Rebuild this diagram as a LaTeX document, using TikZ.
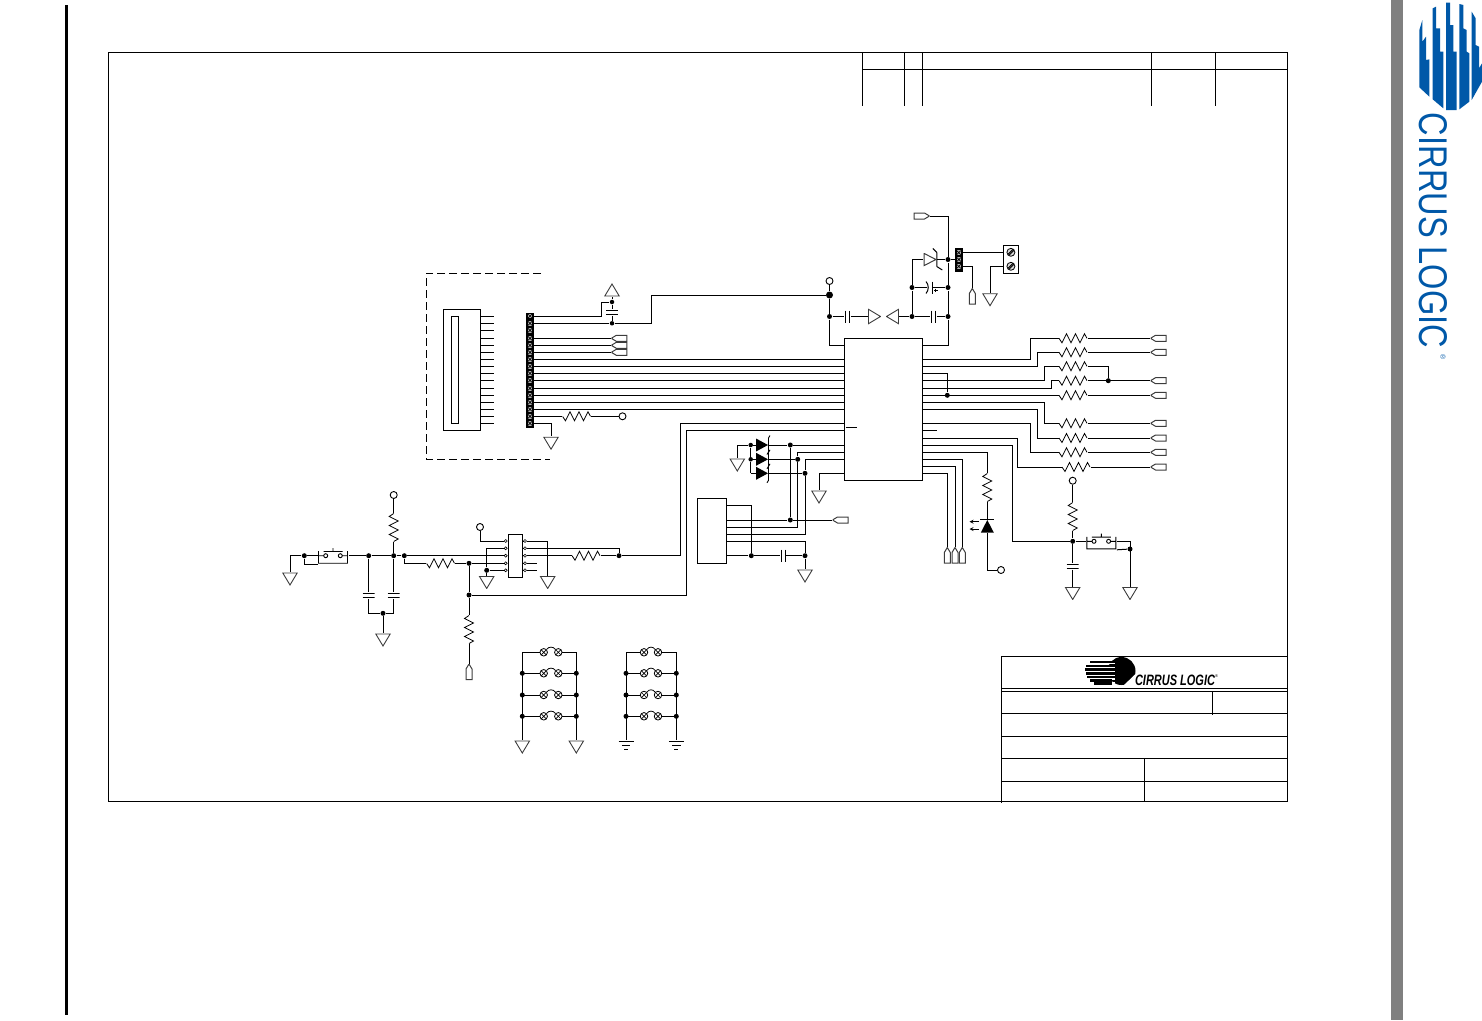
\documentclass[tikz,border=0pt]{standalone}
\usepackage{graphicx}
\usepackage{fontspec}
\setmainfont{Liberation Sans}
\usetikzlibrary{calc,positioning}
\definecolor{cirrusBlue}{RGB}{0,88,168}
\definecolor{railGray}{RGB}{128,128,128}
\definecolor{symGray}{RGB}{60,60,60}

\begin{document}
\begin{tikzpicture}
      [x=1pt,y=-1pt,line width=1pt,
      % STYLES
      every node/.style={inner sep=0pt},
      % Junctions and free ends
      dot/.style={circle, fill=black, minimum size=5},
      term/.style={circle, draw, line width=.9pt, minimum size=7},
      % Resistors, horizontal and vertical
      resH/.style={rectangle, minimum width=28, minimum height=13, path picture={
        \draw[line width=.8pt,shift={(path picture bounding box.center)}] (-14,0) -- (-11,4.5) -- (-6.5,-4.5) -- (-2,4.5) -- (2.5,-4.5) -- (7,4.5) -- (11.5,-4.5) -- (14,0);}},
      resV/.style={rectangle, minimum width=13, minimum height=28, path picture={
        \draw[line width=.8pt,shift={(path picture bounding box.center)}] (0,-14) -- (-4.5,-11) -- (4.5,-6.5) -- (-4.5,-2) -- (4.5,2.5) -- (-4.5,7) -- (4.5,11.5) -- (0,14);}},
      % Capacitors
      capH/.style={rectangle, minimum width=5.5, minimum height=12, path picture={
        \draw[shift={(path picture bounding box.center)}] (-2.2,-6) -- (-2.2,6) (2.2,-6) -- (2.2,6);}},
      capV/.style={rectangle, minimum width=12, minimum height=5.5, path picture={
        \draw[shift={(path picture bounding box.center)}] (-6,-2.2) -- (6,-2.2) (-6,2.2) -- (6,2.2);}},
      % Ground and supply triangles
      gnd/.style={rectangle, minimum width=16, minimum height=12.8, path picture={
        \draw[symGray,line width=.9pt,shift={(path picture bounding box.center)}] (-7.2,-6) -- (7.2,-6) -- (0,6) -- cycle;}},
      supU/.style={rectangle, minimum width=16, minimum height=12.8, path picture={
        \draw[symGray,line width=.9pt,shift={(path picture bounding box.center)}] (-7.2,6) -- (7.2,6) -- (0,-6) -- cycle;}},
      supR/.style={rectangle, minimum width=12.8, minimum height=16, path picture={
        \draw[symGray,line width=.9pt,shift={(path picture bounding box.center)}] (-6,-7.2) -- (-6,7.2) -- (6,0) -- cycle;}},
      supL/.style={rectangle, minimum width=12.8, minimum height=16, path picture={
        \draw[symGray,line width=.9pt,shift={(path picture bounding box.center)}] (6,-7.2) -- (6,7.2) -- (-6,0) -- cycle;}},
      % Earth symbol
      earth/.style={rectangle, minimum width=16, minimum height=11, path picture={
        \draw[shift={(path picture bounding box.center)}] (-7.5,-5) -- (7.5,-5) (-4.2,-.5) -- (4.2,-.5) (-2,3.5) -- (2,3.5);}},
      % Off-page ports
      portL/.style={rectangle, minimum width=16, minimum height=7, path picture={
        \draw[symGray,shift={(path picture bounding box.center)}] (-8,0) -- (-3,-3) -- (7.5,-3) -- (7.5,3) -- (-3,3) -- cycle;}},
      portR/.style={rectangle, minimum width=16, minimum height=7, path picture={
        \draw[symGray,shift={(path picture bounding box.center)}] (8,0) -- (3,-3) -- (-7.5,-3) -- (-7.5,3) -- (3,3) -- cycle;}},
      portU/.style={rectangle, minimum width=7, minimum height=16, path picture={
        \draw[symGray,shift={(path picture bounding box.center)}] (0,-8) -- (-3,-3) -- (-3,7.5) -- (3,7.5) -- (3,-3) -- cycle;}},
      % Diodes
      diodeF/.style={rectangle, minimum width=12, minimum height=13, path picture={
        \fill[shift={(path picture bounding box.center)}] (-6,-6.5) -- (6,0) -- (-6,6.5) -- cycle;}},
      diodeO/.style={rectangle, minimum width=12.6, minimum height=13, path picture={
        \draw[symGray,shift={(path picture bounding box.center)}] (-5.8,-6) -- (6,0) -- (-5.8,6) -- cycle;}},
      ledU/.style={rectangle, minimum width=13, minimum height=12.6, path picture={
        \fill[shift={(path picture bounding box.center)}] (-6.5,6.3) -- (6.5,6.3) -- (0,-6.3) -- cycle;}},
      % Push button
      pushSw/.style={rectangle, minimum width=30, minimum height=16, path picture={
        \draw[line width=.9pt,shift={(path picture bounding box.center)}] (-14.5,-4.5) -- (-14.5,7.5) -- (14.5,7.5) -- (14.5,-4.5)
          (-14.5,0) -- (-9.3,0) (9.3,0) -- (14.5,0) (-7.3,0) circle (2) (7.3,0) circle (2)
          (-9.5,-4.2) -- (9.5,-4.2) (0,-4.2) -- (0,-7.6);}},
      % Connector cells
      pinCell/.style={rectangle, fill=black!30, minimum size=4.6, path picture={
        \draw[line width=.7pt,shift={(path picture bounding box.center)}] (-2,-2) -- (2,2) (-2,2) -- (2,-2);}},
      screw/.style={circle, draw, line width=.8pt, fill=black!15, minimum size=8, path picture={
        \draw[line width=.8pt,shift={(path picture bounding box.center)}] (-3,2) -- (2,-3) (-2,3) -- (3,-2);}},
      lamp/.style={circle, draw, line width=.8pt, minimum size=7.5, path picture={
        \draw[line width=.7pt,shift={(path picture bounding box.center)}] (-3,-3) -- (3,3) (-3,3) -- (3,-3);}}]

      \useasboundingbox (0,0) rectangle (1482,1020);

      % Page furniture
      \fill (64.5,5) rectangle (67.5,1015);
      \fill[railGray] (1391,0) rectangle (1403,1020);
      \node [draw, minimum width=1179, minimum height=749] (sheet) at (697.5,426.5) {};

      % Revision table
      \draw (862,52) -- (862,106) (904,52) -- (904,106) (922,52) -- (922,106)
        (1151,52) -- (1151,106) (1215,52) -- (1215,106) (862,69) -- (1287,69);

      % Title block
      \draw (1001,656) -- (1287,656) (1001,656) -- (1001,803) (1001,688) -- (1287,688)
        (1001,691.5) -- (1287,691.5) (1001,713.5) -- (1287,713.5) (1001,736) -- (1287,736)
        (1001,758) -- (1287,758) (1001,781) -- (1287,781) (1212.5,691.5) -- (1212.5,715) (1144,758) -- (1144,802);

      %%%%%%%%%%%%%%%
      % Small logo
      \fill (1121.5,671) circle (14);
      \foreach \xs/\ya in {1090/661.7,1086/665.7,1085/669.5,1086/673.3,1087/677,1090/680.5,1094/683.5}{
        \fill[white] (1098,\ya+1.2) rectangle (1115,\ya+2.6);
        \fill (\xs,\ya-1.2) rectangle (1112,\ya+1.2);
      }
      \fill[white] (1135.5,674) -- (1136,686) -- (1123,686) -- cycle;
      \node (logoSmall) at (1175,680) {\resizebox{80pt}{10.5pt}{\bfseries\itshape CIRRUS LOGIC}};
      \node [font=\fontsize{4}{4}\selectfont] (logoSmallMark) at (1216.5,676.5) {®};

      % Large logo
      \begin{scope}[shift={(1410,0)},x=1/3pt,y=-1/3pt,fill=cirrusBlue]
        \fill (28,90) -- (37,60) -- (37,125) -- (48,110) -- (48,180) -- (58,178) -- (58,290) -- (28,262) -- cycle;
        \fill (68,25) -- (78,20) -- (78,85) -- (90,85) -- (90,155) -- (100,155) -- (100,325) -- (68,298) -- cycle;
        \fill (108,8) -- (120,8) -- (120,75) -- (130,75) -- (130,155) -- (140,155) -- (140,330) -- (108,330) -- cycle;
        \fill (148,12) -- (160,15) -- (160,85) -- (170,90) -- (170,155) -- (178,160) -- (178,305) -- (148,328) -- cycle;
        \fill (185,35) -- (197,55) -- (197,135) -- (207,140) -- (207,205) -- (216,190) -- (216,245) -- (185,300) -- cycle;
      \end{scope}
      \node [rotate=-90, text=cirrusBlue] (logoBig) at (1433,230.5) {\resizebox{235pt}{28pt}{CIRRUS LOGIC}};
      \node [rotate=-90, text=cirrusBlue, font=\fontsize{7}{7}\selectfont] (logoMark) at (1443,357) {®};

      %%%%%%%%%%%%%%%
      % Main chip and connector boxes
      \node [draw, minimum width=78, minimum height=142] (U) at (883,409) {};
      \node [draw, minimum width=37, minimum height=121] (cardSlot) at (461.5,369.5) {};
      \node [draw, minimum width=7, minimum height=107] (cardInner) at (454.5,369.5) {};
      \node [draw, minimum width=29, minimum height=65] (hdrBox) at (712,530.5) {};
      \node [draw, minimum width=14.5, minimum height=43] (muxBox) at (515.5,555.7) {};
      \node [draw, minimum width=14.7, minimum height=28.3] (termBlock) at (1011.3,259.2) {};
      \node [fill=black, minimum width=7.5, minimum height=115] (stripJ) at (530,370.5) {};
      \node [fill=black, minimum width=7.5, minimum height=23.5] (stripH) at (958.8,259.8) {};
      \draw [dash pattern=on 8pt off 4pt] (541,273) -- (426,273) -- (426,459) -- (550,459);

      % Card connector pins
      \foreach \n/\ya in {1/316,2/323.3,3/330.3,4/338.3,5/345.3,6/352.3,7/359.3,8/366.3,9/373.3,10/380.3,11/388.3,12/395.3,13/402.3,14/409.3,15/416.3,16/423.3}{
        \coordinate (JA\n) at (480,\ya);
        \draw (JA\n) -- ++(14,0);
        \node [pinCell] (JB\n) at (530,\ya) {};
        \coordinate (JR\n) at (533.7,\ya);
      }
      \foreach \n in {7,...,14}{ \draw (JR\n) -- (JR\n -| U.west); }

      % Chip pins, right side
      \foreach \n/\ya in {1/345,2/359.3,3/366.3,4/373.3,5/380.3,6/388,7/395.3,8/402.3,9/409.3,10/423.3,11/430.3,12/438.3,13/445.7,14/452.3,15/459.7,16/466.7,17/473.7}{
        \coordinate (UR\n) at (922,\ya);
      }
      % Chip pins, left side
      \foreach \n/\ya in {1/345,10/423.3,11/430.3,12/445,13/452.3,14/459.3,15/473.3}{
        \coordinate (UL\n) at (844,\ya);
      }

      %%%%%%%%%%%%%%%
      % Series resistors and ports
      \foreach \n/\ya in {1/338.3,2/352.3,3/366.3,4/380.7,5/395.3,6/423.3,7/438,8/452.3}{
        \node [resH] (R\n) at (1073,\ya) {};
      }
      \node [resH] (R9) at (1076,467) {};
      \foreach \n/\ya in {1/338.3,2/352.3,4/380.7,5/395.3,6/423.3,7/438,8/452.3,9/467}{
        \node [portL] (P\n) at (1158.5,\ya) {};
        \draw (R\n.east) -- (P\n.west);
      }
      \node [dot] (dotR) at (1108.3,380.7) {};
      \node [dot] (dotU) at (947.3,395.3) {};
      \draw (R3.east) -| (dotR);
      \draw (UR2) -- (1030.3,359.3) |- (R1.west);
      \draw (UR3) -- (1037.3,366.3) |- (R2.west);
      \draw (UR4) -| (dotU);
      \draw (UR5) -- (1044.3,380.3) |- (R3.west);
      \draw (UR6) -- (1051.7,388) |- (R4.west);
      \draw (UR7) -- (R5.west);
      \draw (UR8) -- (1044.3,402.3) |- (R6.west);
      \draw (UR9) -- (1037.3,409.3) |- (R7.west);
      \draw (UR10) -- (1030.3,423.3) |- (R8.west);
      \draw (UR11) -- ++(15,0);
      \draw (UR12) -- (1017.3,438.3) |- (R9.west);

      % LED branch
      \node [resV] (RL) at (987.3,487.5) {};
      \node [ledU] (led) at (987.3,526.3) {};
      \node [term] (termF) at (1001,570) {};
      \draw (UR14) -| (RL.north);
      \draw (RL.south) -- (led.north);
      \draw (led.north west) -- (led.north east);
      \draw (led.south) |- (termF);
      \draw [->, >=stealth, line width=.8pt] (979,521.7) -- (969.5,521.7);
      \draw [->, >=stealth, line width=.8pt] (979,529) -- (969.5,529);

      % Bottom ports of the chip
      \foreach \n/\px in {15/962.3,16/955,17/947.3}{
        \node [portU] (Q\n) at (\px,555.5) {};
        \draw (UR\n) -| (Q\n.north);
      }

      % Right push button
      \node [term] (termE) at (1072.7,480.7) {};
      \node [resV] (RE) at (1072.7,516.5) {};
      \node [dot] (dotE) at (1072.7,541.3) {};
      \node [pushSw] (swR) at (1101.3,541.3) {};
      \node [capV] (CE) at (1072.7,566.3) {};
      \node [gnd] (gE) at (1072.7,593.5) {};
      \node [dot] (dotF) at (1130,549) {};
      \node [gnd] (gF) at (1130,593.5) {};
      \draw (termE) -- (RE.north);
      \draw (RE.south) -- (dotE);
      \draw (dotE) -- (CE.north);
      \draw (CE.south) -- (gE.north);
      \draw (UR13) -- (1012.3,445.7) |- (dotE);
      \draw (dotE) -- (swR.west);
      \draw (swR.east) -| (gF.north);
      \draw (swR.south east) -- (dotF);

      %%%%%%%%%%%%%%%
      % Supply section
      \node [term] (termD) at (829.5,281) {};
      \node [dot, minimum size=7] (dotD) at (829.5,295) {};
      \node [dot] (dotC) at (829.5,316.5) {};
      \node [capH] (C1) at (847.5,316.5) {};
      \node [supR] (supA) at (874.5,316.5) {};
      \node [supL] (supB) at (892.5,316.5) {};
      \node [dot] (dotG) at (912,316.5) {};
      \node [capH] (C2) at (933.3,316.5) {};
      \node [dot] (dotH) at (948,316.5) {};
      \node [dot] (dotI) at (912,287.5) {};
      \node [dot] (dotK) at (948,287.5) {};
      \node [dot] (dotL) at (948,259.5) {};
      \node [diodeO] (Z1) at (930,259.5) {};
      \node [portR] (portTop) at (921.5,216) {};
      \draw (termD) -- (dotD);
      \draw (dotD) -- (dotC);
      \draw (dotC) |- (UL1);
      \draw (dotC) -- (C1.west);
      \draw (C1.east) -- (supA.west);
      \draw (supB.east) -- (dotG);
      \draw (dotG) -- (C2.west);
      \draw (C2.east) -- (dotH);
      \draw (dotH) |- (UR1);
      \draw (dotH) -- (dotK);
      \draw (dotK) -- (dotL);
      \draw (dotL) |- (portTop.east);
      \draw (dotG) -- (dotI);
      \draw (dotI) |- (Z1.west);
      \draw (Z1.east) -- (dotL);
      % Zener bar
      \draw (Z1.north east) -- (Z1.south east) (Z1.north east) -- ++(-4,-4) (Z1.south east) -- ++(5.5,3.5);
      % Polarised capacitor
      \coordinate (ceA) at (926.5,287.5);
      \coordinate (ceB) at (932.3,287.5);
      \draw (dotI) -- (ceA);
      \draw (ceB) -- (dotK);
      \draw (926,281.5) .. controls (929,285) and (929,290) .. (926,293.5);
      \draw (932.3,281.5) -- (932.3,293.5);
      \draw [line width=.8pt] (934,290.5) -- ++(3.5,0) (935.7,288.7) -- ++(0,3.5);

      % Power header and terminal block
      \foreach \n/\ya in {1/252.6,2/259.5,3/266.4}{
        \node [pinCell] (H\n) at (958.8,\ya) {};
      }
      \node [screw] (scA) at (1010.9,252.3) {};
      \node [screw] (scB) at (1010.9,266.3) {};
      \node [portU] (portH) at (972.3,296.5) {};
      \node [gnd] (gH) at (990,299.7) {};
      \draw (stripH.east |- H1) -- (termBlock.west |- H1);
      \draw (dotL) -- (H2);
      \draw (stripH.east |- H3) -| (portH.north);
      \draw (termBlock.west |- H3) -| (gH.north);

      %%%%%%%%%%%%%%%
      % Card connector wiring
      \node [dot, minimum size=4.5] (dotCa) at (612,302) {};
      \node [dot, minimum size=4.5] (dotCb) at (612,323.3) {};
      \node [capV] (C3) at (612,312.5) {};
      \node [supU] (supC) at (612,290) {};
      \node [term] (termC) at (622.5,416.3) {};
      \node [resH] (RC) at (576.5,416.3) {};
      \node [gnd] (gC) at (551,443.2) {};
      \draw (JR1) -- (601.5,316) |- (dotCa);
      \draw (dotCa) -- (supC.south);
      \draw (dotCa) -- (C3.north);
      \draw (C3.south) -- (dotCb);
      \draw (JR2) -- (dotCb);
      \draw (dotCb) -- (651.7,323.3) |- (dotD);
      \foreach \n in {4,5,6}{
        \coordinate (JT\n) at (JR\n -| 605,0);
        \node [portL] (PJ\n) at ($(JT\n)+(14.3,0)$) {};
        \draw (JR\n) -- (PJ\n.west);
      }
      \draw (JR15) -- (RC.west);
      \draw (RC.east) -- (termC);
      \draw (JR16) -| (gC.north);

      %%%%%%%%%%%%%%%
      % Diodes and lower header
      \foreach \n/\ya/\xd in {1/445/790.3,2/459.3/797.7,3/473.3/805}{
        \node [diodeF] (D\n) at (762,\ya) {};
        \node [dot] (dotV\n) at (\xd,\ya) {};
        \draw (D\n.east) -- (dotV\n);
        \draw [line width=.9pt] (D\n.north east) -- (D\n.south east) (D\n.north east) -- ++(1.5,-2.5) (D\n.south east) -- ++(-1.5,2.5);
      }
      \node [dot, minimum size=4.5] (dotW1) at (750.7,445) {};
      \node [dot, minimum size=4.5] (dotW2) at (750.7,459.3) {};
      \coordinate (cornerW) at (750.7,473.3);
      \node [gnd] (gW) at (737.3,465) {};
      \node [gnd] (gU) at (819,497) {};
      \draw (dotW1) -- (D1.west);
      \draw (dotW2) -- (D2.west);
      \draw (cornerW) -- (D3.west);
      \draw (dotW1) -- (dotW2);
      \draw (dotW2) -- (cornerW);
      \draw (dotW1) -| (gW.north);
      \draw (dotV1) -- (UL12);
      \draw (UL15) -| (gU.north);

      \node [dot] (dotV4) at (790.3,520) {};
      \node [dot] (dotX) at (751.3,555.7) {};
      \node [capH] (C4) at (783.2,555.7) {};
      \node [dot] (dotY) at (805,555.7) {};
      \node [gnd] (gY) at (805,576) {};
      \node [portL] (portX) at (840.5,520) {};
      \draw (dotV1) -- (dotV4);
      \draw (UL13) -| (dotV2);
      \draw (UL14) -| (dotV3);
      \draw (hdrBox.east |- 0,505.3) -| (dotX);
      \draw (hdrBox.east |- dotV4) -- (dotV4);
      \draw (dotV4) -- (portX.west);
      \draw (dotV2) |- (hdrBox.east |- 0,527.3);
      \draw (dotV3) |- (hdrBox.east |- 0,534.3);
      \draw (hdrBox.east |- 0,541.7) -| (dotY);
      \draw (hdrBox.east |- dotX) -- (dotX);
      \draw (dotX) -- (C4.west);
      \draw (C4.east) -- (dotY);
      \draw (dotY) -- (gY.north);

      %%%%%%%%%%%%%%%
      % Left push button and mux
      \node [term] (termA) at (393.7,495) {};
      \node [resV] (RA) at (393.7,527.5) {};
      \node [dot] (dotA) at (393.7,555.7) {};
      \node [dot] (dotS1) at (304.3,555.7) {};
      \node [pushSw] (swL) at (333,555.7) {};
      \node [dot] (dotS2) at (368.7,555.7) {};
      \node [dot] (dotS3) at (404.3,555.7) {};
      \node [gnd] (gS) at (290,579) {};
      \node [capV] (C5) at (368.7,595.5) {};
      \node [capV] (C6) at (393.7,595.5) {};
      \node [dot] (dotB) at (383,613.3) {};
      \node [gnd] (gB) at (383,640) {};
      \node [resH] (RB) at (440.5,563.3) {};
      \node [dot] (dotM) at (469,563.3) {};
      \node [dot] (dotN) at (469,595) {};
      \node [resV] (RN) at (469,629.5) {};
      \node [portU] (portN) at (469,672) {};
      \draw (termA) -- (RA.north);
      \draw (RA.south) -- (dotA);
      \draw (dotS1) -| (gS.north);
      \draw (dotS1) -- (swL.west);
      \draw (dotS1) |- (swL.south west);
      \draw (swL.east) -- (dotS2);
      \draw (dotS2) -- (dotA);
      \draw (dotA) -- (dotS3);
      \draw (dotS2) -- (C5.north);
      \draw (dotA) -- (C6.north);
      \draw (C5.south) |- (dotB);
      \draw (C6.south) |- (dotB);
      \draw (dotB) -- (gB.north);
      \draw (dotS3) |- (RB.west);
      \draw (RB.east) -- (dotM);
      \draw (dotM) -- (dotN);
      \draw (dotN) -- (RN.north);
      \draw (RN.south) -- (portN.north);
      \draw (dotN) -- (686.7,595) |- (UL11);

      % Mux pins
      \foreach \n/\ya in {1/541,2/548.3,3/555.7,4/563.3,5/570.3}{
        \node [circle, draw, line width=.6pt, minimum size=3] (ML\n) at (505.7,\ya) {};
        \node [circle, draw, line width=.6pt, minimum size=3] (MR\n) at (525,\ya) {};
        \draw (ML\n) -- (muxBox.west |- ML\n);
        \draw (MR\n) -- (muxBox.east |- MR\n);
      }
      \node [term] (termB) at (480,527) {};
      \node [dot] (dotP) at (486.7,570.3) {};
      \node [gnd] (gP) at (486.7,582.5) {};
      \node [gnd] (gQ) at (547.7,582.5) {};
      \node [resH] (RM) at (586,555.7) {};
      \node [dot] (dotR2) at (619,555.7) {};
      \draw (termB) |- (ML1);
      \draw (ML2) -| (dotP);
      \draw (dotP) -- (ML5);
      \draw (dotP) -- (gP.north);
      \draw (dotS3) -- (ML3);
      \draw (dotM) -- (ML4);
      \draw (MR1) -| (gQ.north);
      \draw (MR2) -| (dotR2);
      \draw (MR3) -- (RM.west);
      \draw (RM.east) -- (dotR2);
      \draw (MR4) -- ++(11.5,0);
      \draw (MR5) -- ++(11.5,0);
      \draw (dotR2) -- (680,555.7) |- (UL10);
      % Stub inside the chip
      \draw (845.7,427) -- (857.3,427);

      %%%%%%%%%%%%%%%
      % Lamp ladders
      \foreach \g/\xl/\ca/\cb/\xr in {a/522.3/543.7/558.3/576.3,b/626/644/658/676.3}{
        \coordinate (top\g L) at (\xl,652.3);
        \coordinate (top\g R) at (\xr,652.3);
        \foreach \r/\ya in {1/652.3,2/673.3,3/695,4/716.3}{
          \node [lamp] (lA\g\r) at (\ca,\ya) {};
          \node [lamp] (lB\g\r) at (\cb,\ya) {};
          \draw [line width=.8pt] (lA\g\r.north east) .. controls +(2,-3) and +(-2,-3) .. (lB\g\r.north west);
          \draw (\xl,\ya) -- (lA\g\r);
          \draw (lB\g\r) -- (\xr,\ya);
        }
        \foreach \r/\ya in {2/673.3,3/695,4/716.3}{
          \node [dot] (dL\g\r) at (\xl,\ya) {};
          \node [dot] (dR\g\r) at (\xr,\ya) {};
        }
      }
      \node [gnd] (gLa) at (522.3,747) {};
      \node [gnd] (gRa) at (576.3,747) {};
      \node [earth] (gLb) at (626,746) {};
      \node [earth] (gRb) at (676.3,746) {};
      \path[draw]
        (topaL) -- (gLa.north)
        (topaR) -- (gRa.north)
        (topbL) -- (gLb.north)
        (topbR) -- (gRb.north);

    \end{tikzpicture}
\end{document}
